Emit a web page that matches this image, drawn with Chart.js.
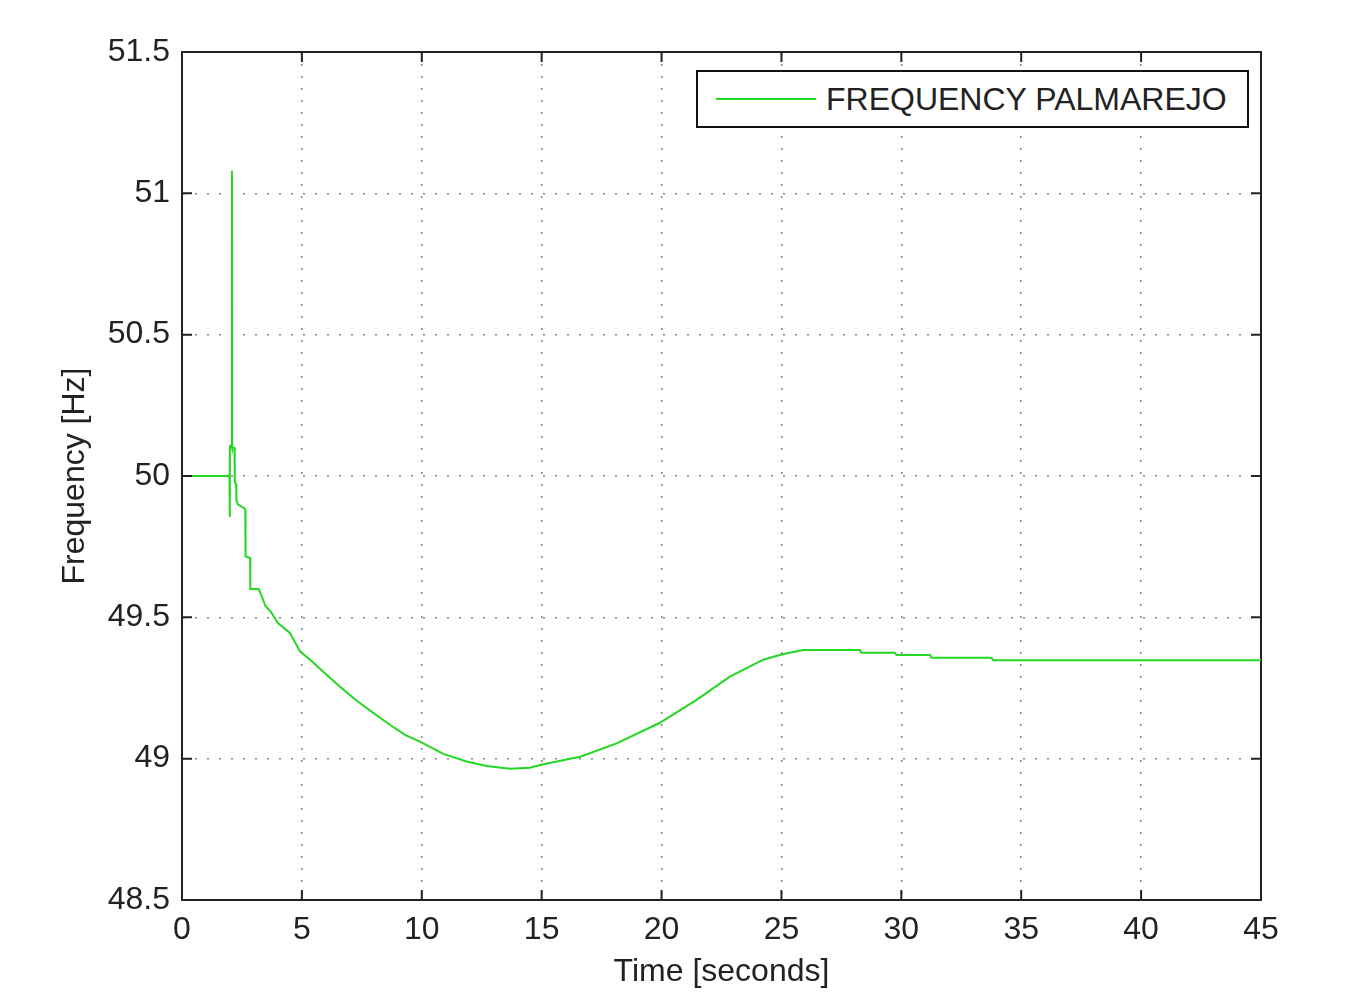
<!DOCTYPE html>
<html lang="en">
<head>
  <meta charset="UTF-8" />
  <title>Frequency Palmarejo</title>
  <script src="https://cdn.jsdelivr.net/npm/chart.js"></script>
  <style>
    body {
      margin: 0;
      background: #fff;
      font-family: 'Liberation Sans', Arial, sans-serif;
    }

    .wrap {
      position: relative;
      width: 1363px;
      height: 992px;
    }

    .legend {
      position: absolute;
      left: 696px;
      top: 70px;
      width: 549px;
      height: 54px;
      border: 2px solid #111;
      background: #fff;
      display: flex;
      align-items: center;
      font-size: 32px;
      color: #222;
    }

    .legend .swatch {
      width: 100px;
      height: 2px;
      background: #22d822;
      margin: 0 10px 0 18px;
    }
  </style>
</head>
<body>
  <div class="wrap">
    <canvas id="freqChart" width="1363" height="992"></canvas>
    <div class="legend"><span class="swatch"></span><span>FREQUENCY PALMAREJO</span></div>
  </div>

  <script>
    // time (s) and frequency (Hz)
    const timeSec = [
      0, 1.98, 1.99, 2.00, 2.05, 2.08, 2.085, 2.09, 2.19, 2.20,
      2.26, 2.27, 2.33, 2.41, 2.60, 2.64, 2.65, 2.84, 2.85, 3.20,
      3.30, 3.48, 3.70, 3.85, 4.00, 4.50, 4.92, 5.34, 6.25, 6.52,
      7.21, 7.91, 8.67, 9.30, 9.92, 10.90, 11.87, 12.70, 13.68, 14.5,
      15.07, 16.6, 18.13, 19.93, 21.46, 22.85, 24.24, 25.08, 25.91, 28.27,
      28.34, 29.73, 29.80, 31.19, 31.26, 33.76, 33.83, 45
    ];
    const freqHz = [
      50.0, 50.0, 49.855, 50.105, 50.11, 50.10, 51.08, 50.10, 50.10, 49.98,
      49.97, 49.915, 49.90, 49.895, 49.886, 49.88, 49.715, 49.71, 49.60, 49.60,
      49.58, 49.54, 49.52, 49.50, 49.48, 49.445, 49.38, 49.35, 49.28, 49.26,
      49.21, 49.166, 49.12, 49.084, 49.06, 49.017, 48.99, 48.974, 48.964, 48.968,
      48.98, 49.007, 49.054, 49.127, 49.208, 49.29, 49.35, 49.37, 49.384, 49.384,
      49.375, 49.375, 49.367, 49.367, 49.357, 49.357, 49.348, 49.348
    ];

    const xRange = [0, 45];
    const yRange = [48.5, 51.5];
    const xStep = 5;
    const yStep = 0.5;

    const points = timeSec.map((t, i) => ({ x: t, y: freqHz[i] }));

    const font = { family: "'Liberation Sans', Arial, sans-serif", size: 32 };
    const dotted = { color: '#222', width: 2, dash: [2, 10] };
    const gridStyle = { color: 'rgba(110,110,110,0.85)', lineWidth: 1.5, drawTicks: false };

    // matlab-style inward ticks on all four sides
    const inwardTicks = {
      id: 'inwardTicks',
      afterDraw(chart) {
        const { ctx, chartArea: a, scales } = chart;
        const len = 10;
        ctx.save();
        ctx.strokeStyle = '#222';
        ctx.lineWidth = 2;
        ctx.beginPath();
        scales.x.ticks.forEach(t => {
          const px = scales.x.getPixelForValue(t.value);
          ctx.moveTo(px, a.bottom); ctx.lineTo(px, a.bottom - len);
          ctx.moveTo(px, a.top); ctx.lineTo(px, a.top + len);
        });
        scales.y.ticks.forEach(t => {
          const py = scales.y.getPixelForValue(t.value);
          ctx.moveTo(a.left, py); ctx.lineTo(a.left + len, py);
          ctx.moveTo(a.right, py); ctx.lineTo(a.right - len, py);
        });
        ctx.stroke();
        ctx.restore();
      }
    };

    new Chart(document.getElementById('freqChart'), {
      type: 'line',
      data: {
        datasets: [{
          label: 'FREQUENCY PALMAREJO',
          data: points,
          borderColor: '#22d822',
          borderWidth: 2,
          pointRadius: 0,
          tension: 0,
          fill: false
        }]
      },
      options: {
        responsive: false,
        animation: false,
        layout: { padding: 0 },
        plugins: {
          legend: { display: false },
          tooltip: { enabled: false }
        },
        scales: {
          x: {
            type: 'linear',
            position: 'bottom',
            min: xRange[0],
            max: xRange[1],
            ticks: { stepSize: xStep, font: font, color: '#222', padding: 11, callback: v => String(v) },
            grid: gridStyle,
            border: dotted,
            title: { display: true, text: 'Time [seconds]', font: font, color: '#222', padding: { top: 0, bottom: 1 } },
            afterFit(scale) { scale.height = 92; }
          },
          x2: {
            type: 'linear',
            position: 'top',
            min: xRange[0],
            max: xRange[1],
            ticks: { display: false },
            grid: { display: false },
            border: { color: '#222', width: 2 },
            afterFit(scale) { scale.height = 52; }
          },
          y: {
            type: 'linear',
            position: 'left',
            min: yRange[0],
            max: yRange[1],
            ticks: { stepSize: yStep, font: font, color: '#222', padding: 12, callback: v => String(v) },
            grid: gridStyle,
            border: dotted,
            title: { display: true, text: 'Frequency [Hz]', font: font, color: '#222', padding: { top: 56, bottom: 0 } },
            afterFit(scale) { scale.width = 182; }
          },
          y2: {
            type: 'linear',
            position: 'right',
            min: yRange[0],
            max: yRange[1],
            ticks: { display: false },
            grid: { display: false },
            border: { color: '#222', width: 2 },
            afterFit(scale) { scale.width = 102; }
          }
        }
      },
      plugins: [inwardTicks]
    });
  </script>
</body>
</html>
